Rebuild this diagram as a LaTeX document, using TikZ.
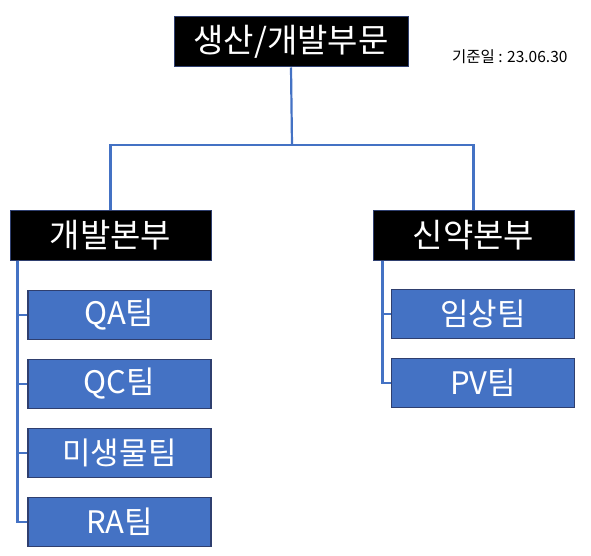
\documentclass[tikz,border=0pt]{standalone}
\usepackage{fontspec}
\setmainfont{Noto Sans CJK KR}
\usepackage{tikz}
\usetikzlibrary{positioning,calc}
\definecolor{teamblue}{HTML}{4472C4}
\definecolor{teamedge}{HTML}{2F3F6F}

\begin{document}
\begin{tikzpicture}[
  x=1pt, y=-1pt,
  head/.style={draw=teamedge, line width=1pt, fill=black, text=white,
    minimum height=50pt, inner sep=0pt, font=\fontsize{33}{33}\selectfont},
  team/.style={draw=teamedge, line width=1.5pt, fill=teamblue, text=white,
    minimum width=183pt, minimum height=49pt, inner sep=0pt,
    font=\fontsize{31}{31}\selectfont},
  link/.style={draw=teamblue, line width=2.2pt},
]
  \useasboundingbox (0,0) rectangle (591,556);

  \node[head, minimum width=234pt] (top) at (291,42) {생산/개발부문};
  \node[font=\fontsize{15.5}{15.5}\selectfont, anchor=east] (date) at (571,57) {기준일 : 23.06.30};

  \node[head, minimum width=201pt] (dev) at (110.5,235) {개발본부};
  \node[head, minimum width=201pt] (drug) at (473.5,235) {신약본부};

  % 개발본부 teams
  \node[team] (qa) at (119.5,315) {QA팀};
  \node[team] (qc) at (119.5,384) {QC팀};
  \node[team] (mic) at (119.5,453) {미생물팀};
  \node[team] (ra) at (119.5,522) {RA팀};

  % 신약본부 teams
  \node[team] (clin) at (483,314) {임상팀};
  \node[team] (pv) at (483,383) {PV팀};

  \coordinate (bar) at (292,145);
  \draw[link] (top.south) -- (bar);
  \draw[link] (dev.north) |- (bar) -| (drug.north);

  \foreach \t in {qa,qc,mic,ra}
    \draw[link] ([xshift=8pt]dev.south west) |- (\t.west);
  \foreach \t in {clin,pv}
    \draw[link] ([xshift=10pt]drug.south west) |- (\t.west);
\end{tikzpicture}
\end{document}
